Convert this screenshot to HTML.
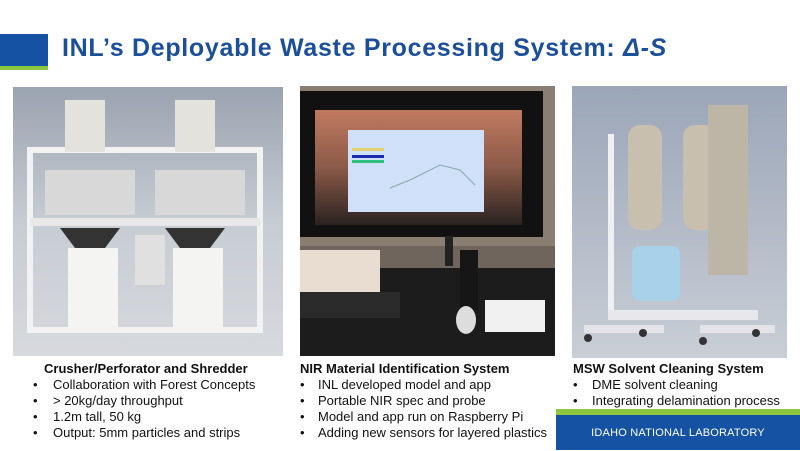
<!DOCTYPE html>
<html><head><meta charset="utf-8"><style>
html,body{margin:0;padding:0;background:#fff;}
body{width:800px;height:450px;position:relative;overflow:hidden;font-family:"Liberation Sans",Arial,sans-serif;}
.t{position:absolute;font-size:13px;color:#111;white-space:nowrap;line-height:16px;}
.cap{font-weight:bold;}
</style></head><body>
<div style="position:absolute;left:0;top:34px;width:48px;height:32px;background:#1552a3"></div>
<div style="position:absolute;left:0;top:66px;width:48px;height:4px;background:#8dc63f"></div>
<div style="position:absolute;left:62px;top:34px;font-size:25px;font-weight:bold;color:#1c4f99;white-space:nowrap;letter-spacing:0.7px">INL’s Deployable Waste Processing System: <i>Δ-S</i></div>

<svg style="position:absolute;left:0;top:0" width="800" height="450">
<defs>
<linearGradient id="g1" x1="0" y1="0" x2="0" y2="1"><stop offset="0" stop-color="#9aa3b0"/><stop offset="0.5" stop-color="#c7ccd3"/><stop offset="1" stop-color="#d6d9dd"/></linearGradient>
<linearGradient id="g2" x1="0" y1="0" x2="0" y2="1"><stop offset="0" stop-color="#9ba6b8"/><stop offset="1" stop-color="#c9ced6"/></linearGradient>
<linearGradient id="sc" x1="0" y1="0" x2="0" y2="1"><stop offset="0" stop-color="#c07a60"/><stop offset="0.5" stop-color="#8b5a48"/><stop offset="1" stop-color="#2a2220"/></linearGradient>
</defs>
<rect x="13" y="87" width="270" height="269" fill="url(#g1)"/>
<rect x="30" y="150" width="230" height="180" fill="none" stroke="#f2f2f2" stroke-width="6"/>
<rect x="30" y="218" width="230" height="8" fill="#e8e8e8"/>
<rect x="65" y="100" width="40" height="52" fill="#e4e2dc"/><rect x="175" y="100" width="40" height="52" fill="#e4e2dc"/>
<rect x="45" y="170" width="90" height="45" fill="#d8d8d8"/><rect x="155" y="170" width="90" height="45" fill="#d8d8d8"/>
<polygon points="60,228 120,228 105,248 75,248" fill="#333"/><polygon points="165,228 225,228 210,248 180,248" fill="#333"/>
<rect x="68" y="248" width="50" height="80" fill="#f4f4f2"/><rect x="173" y="248" width="50" height="80" fill="#f4f4f2"/>
<rect x="135" y="235" width="30" height="50" fill="#e0e0e0"/>
<rect x="300" y="86" width="255" height="270" fill="#6f655c"/>
<rect x="300" y="86" width="255" height="160" fill="#8a7e72"/>
<rect x="300" y="91" width="243" height="146" fill="#111"/>
<rect x="315" y="110" width="207" height="115" fill="url(#sc)"/>
<rect x="348" y="130" width="136" height="82" fill="#cfe0f8"/>
<rect x="352" y="148" width="32" height="3" fill="#e0d070"/><rect x="352" y="155" width="32" height="3" fill="#1a2ab0"/><rect x="352" y="160" width="32" height="3" fill="#30c080"/>
<polyline points="390,188 410,180 440,165 460,170 475,185" fill="none" stroke="#8aa" stroke-width="1"/>
<rect x="445" y="236" width="8" height="30" fill="#222"/>
<rect x="300" y="268" width="255" height="88" fill="#1c1c1c"/>
<rect x="300" y="250" width="80" height="42" fill="#e8ddd0"/>
<rect x="300" y="292" width="100" height="26" fill="#2a2a2a"/>
<rect x="460" y="250" width="18" height="60" fill="#161616"/>
<ellipse cx="466" cy="320" rx="10" ry="14" fill="#ddd"/>
<rect x="485" y="300" width="60" height="32" fill="#f0f0f0"/>
<rect x="572" y="86" width="215" height="272" fill="url(#g2)"/>
<rect x="608" y="134" width="6" height="180" fill="#f0f0f2"/>
<rect x="608" y="310" width="150" height="10" fill="#e8e8ec"/>
<rect x="628" y="125" width="34" height="105" rx="12" fill="#c9bfae"/>
<rect x="683" y="125" width="34" height="105" rx="12" fill="#c9bfae"/>
<rect x="708" y="105" width="40" height="170" fill="#bdb5a5"/>
<rect x="632" y="246" width="48" height="55" rx="8" fill="#a9d2ea"/>
<rect x="584" y="325" width="80" height="8" fill="#e4e4e8"/><rect x="700" y="325" width="75" height="8" fill="#e4e4e8"/>
<circle cx="588" cy="338" r="4" fill="#333"/><circle cx="643" cy="333" r="4" fill="#333"/><circle cx="703" cy="341" r="4" fill="#333"/><circle cx="756" cy="333" r="4" fill="#333"/>
</svg>

<div class="t cap" style="left:44px;top:361px">Crusher/Perforator and Shredder</div>
<div class="t" style="left:33px;top:377px">•</div><div class="t" style="left:53px;top:377px">Collaboration with Forest Concepts</div>
<div class="t" style="left:33px;top:393px">•</div><div class="t" style="left:53px;top:393px">&gt; 20kg/day throughput</div>
<div class="t" style="left:33px;top:409px">•</div><div class="t" style="left:53px;top:409px">1.2m tall, 50 kg</div>
<div class="t" style="left:33px;top:425px">•</div><div class="t" style="left:53px;top:425px">Output: 5mm particles and strips</div>

<div class="t cap" style="left:300px;top:361px">NIR Material Identification System</div>
<div class="t" style="left:300px;top:377px">•</div><div class="t" style="left:318px;top:377px">INL developed model and app</div>
<div class="t" style="left:300px;top:393px">•</div><div class="t" style="left:318px;top:393px">Portable NIR spec and probe</div>
<div class="t" style="left:300px;top:409px">•</div><div class="t" style="left:318px;top:409px">Model and app run on Raspberry Pi</div>
<div class="t" style="left:300px;top:425px">•</div><div class="t" style="left:318px;top:425px">Adding new sensors for layered plastics</div>

<div class="t cap" style="left:573px;top:361px">MSW Solvent Cleaning System</div>
<div class="t" style="left:573px;top:377px">•</div><div class="t" style="left:592px;top:377px">DME solvent cleaning</div>
<div class="t" style="left:573px;top:393px">•</div><div class="t" style="left:592px;top:393px">Integrating delamination process</div>

<div style="position:absolute;left:556px;top:409px;width:244px;height:6px;background:#8dc63f"></div>
<div style="position:absolute;left:556px;top:415px;width:244px;height:35px;background:#1552a3;color:#fff;font-size:11px;letter-spacing:0.2px;text-align:center;line-height:36px">IDAHO NATIONAL LABORATORY</div>
</body></html>
